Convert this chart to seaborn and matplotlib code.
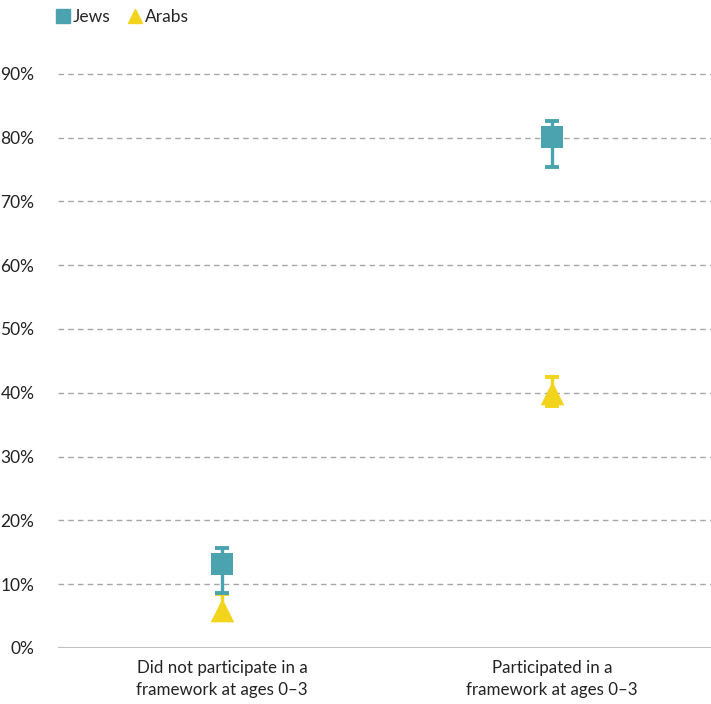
import matplotlib
matplotlib.use("Agg")
import matplotlib.pyplot as plt
import seaborn as sns
import pandas as pd
import numpy as np
from matplotlib.lines import Line2D

categories = ["Did not participate in a\nframework at ages 0\u20133",
              "Participated in a\nframework at ages 0\u20133"]
groups = ["Jews", "Arabs"]
jews_mid = [0.132, 0.801]
jews_low = [0.086, 0.754]
jews_high = [0.156, 0.826]
arabs_mid = [0.060, 0.400]
arabs_low = [0.045, 0.380]
arabs_high = [0.084, 0.425]
yticks = [0, 0.1, 0.2, 0.3, 0.4, 0.5, 0.6, 0.7, 0.8, 0.9]
ytick_labels = ["0%", "10%", "20%", "30%", "40%", "50%", "60%", "70%", "80%", "90%"]

colors = {"Jews": "#4BA3B0", "Arabs": "#F2D41C"}
markers = {"Jews": "s", "Arabs": "^"}
sizes = {"Jews": 16.5, "Arabs": 17}

sns.set_theme(style="white")
plt.rcParams['font.family'] = ['Lato', 'DejaVu Sans']

fig = plt.figure(figsize=(7.11, 7.04), dpi=100)
ax = fig.add_axes([58/711, 1-648/704, 1-58/711, (648-61)/704])

rows = []
for i, c in enumerate(categories):
    rows.append(dict(cat=i, group="Jews", mid=jews_mid[i], low=jews_low[i], high=jews_high[i]))
    rows.append(dict(cat=i, group="Arabs", mid=arabs_mid[i], low=arabs_low[i], high=arabs_high[i]))
df = pd.DataFrame(rows)

for g in ["Arabs", "Jews"]:
    d = df[df.group == g]
    ax.errorbar(d.cat, d.mid, yerr=[d.mid - d.low, d.high - d.mid], fmt="none",
                ecolor=colors[g], elinewidth=2.4, capsize=5, capthick=2.8, zorder=3)
for g in ["Jews", "Arabs"]:
    d = df[df.group == g]
    sns.scatterplot(data=d, x="cat", y="mid", marker=markers[g], color=colors[g],
                    s=sizes[g]**2, linewidth=0, ax=ax, zorder=4, legend=False)

ax.set_xlim(-0.497, 1.482)
ax.set_ylim(0, 0.92)
ax.set_yticks(yticks)
ax.set_yticklabels(ytick_labels)
ax.set_xticks([0, 1])
ax.set_xticklabels(categories)
ax.set_xlabel("")
ax.set_ylabel("")
ax.tick_params(axis="both", length=0, colors="#222222")
ax.tick_params(axis="y", pad=17, labelsize=12.5)
ax.tick_params(axis="x", pad=9, labelsize=12.2)
for t in ax.get_xticklabels():
    t.set_linespacing(1.45)
for y in yticks[1:]:
    ax.axhline(y, color="#A6A6A6", linestyle=(0, (4, 3)), linewidth=1, zorder=1)
ax.axhline(0, color="#BFBFBF", linewidth=1.5, zorder=1)
for s in ax.spines.values():
    s.set_visible(False)

handles = [Line2D([], [], marker="s", color=colors["Jews"], linestyle="none", markersize=9.5),
           Line2D([], [], marker="^", color=colors["Arabs"], linestyle="none", markersize=10)]
fig.legend(handles, groups, loc="center left", bbox_to_anchor=(39/711, 1-17/704), ncol=2,
           frameon=False, fontsize=12.5, handletextpad=0.05, columnspacing=0.9, handlelength=1.0)

fig.savefig("out.png", dpi=100)
